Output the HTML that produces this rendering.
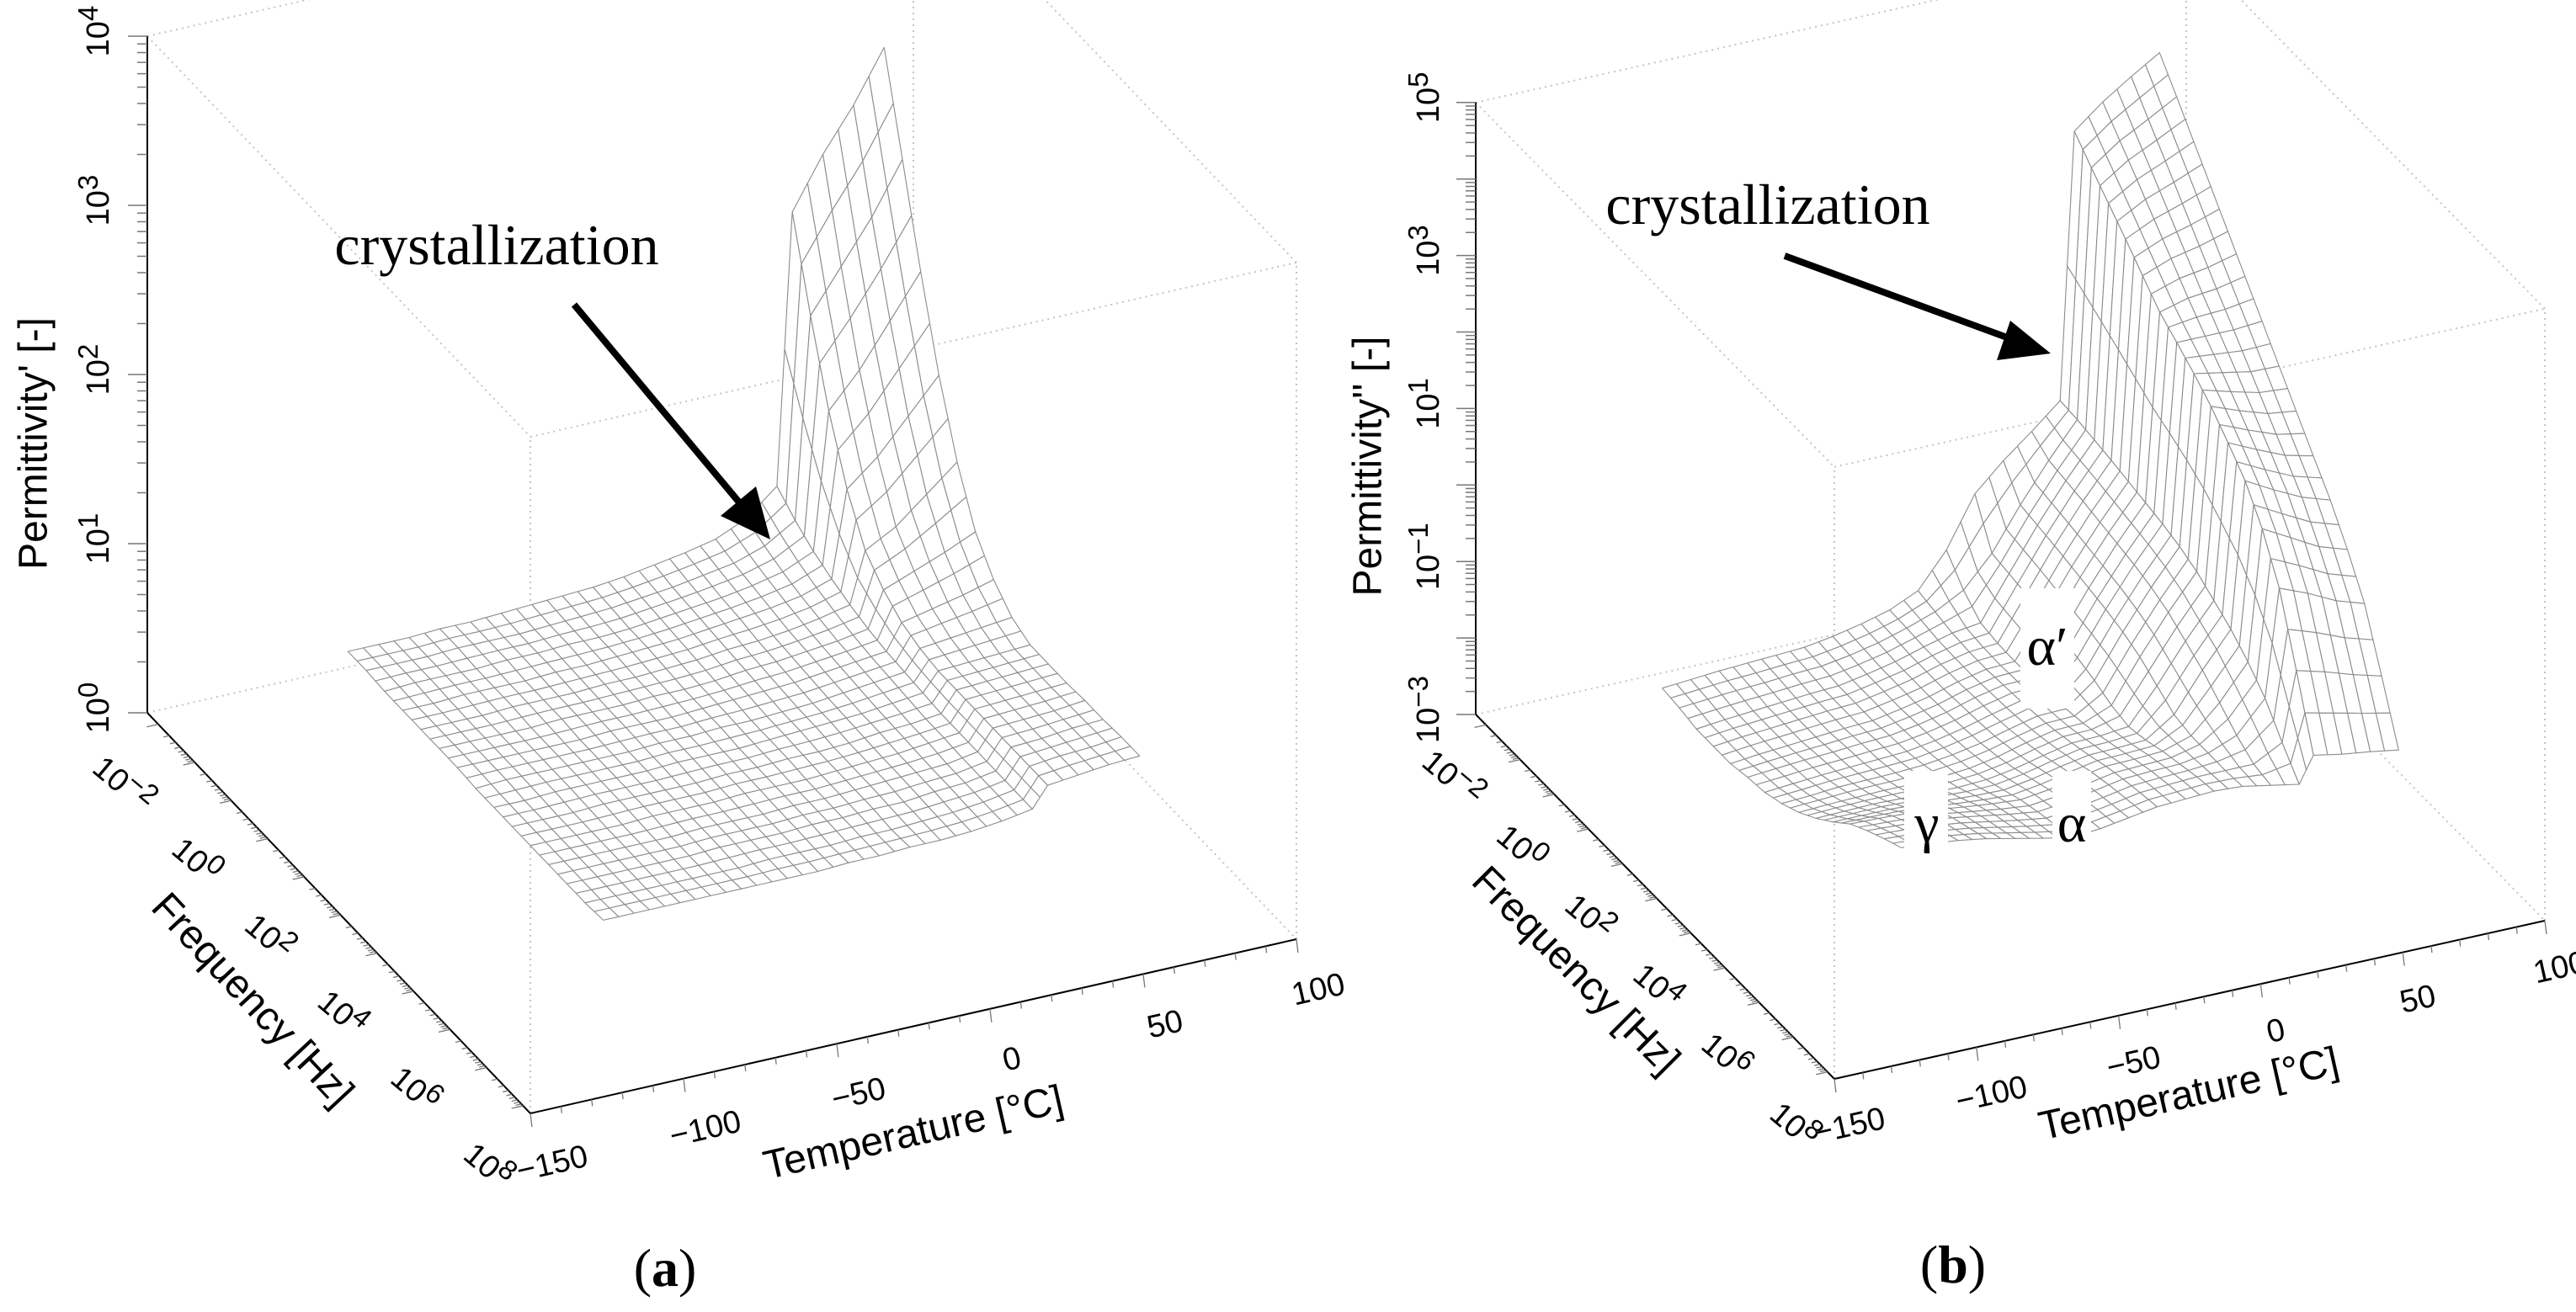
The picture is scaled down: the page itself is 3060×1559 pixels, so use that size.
<!DOCTYPE html>
<html>
<head>
<meta charset="utf-8">
<style>
  html,body{margin:0;padding:0;background:#fff;}
  #fig{display:block;}
  .tick-label{font-family:"Liberation Sans",Arial,sans-serif;font-size:38px;fill:#000;}
  .axis-title{font-family:"Liberation Sans",Arial,sans-serif;font-size:48px;fill:#000;}
  .serif{font-family:"Liberation Serif","Times New Roman",serif;fill:#000;}
</style>
</head>
<body>
<svg id="fig" width="3060" height="1559" viewBox="0 0 3060 1559">
  <rect x="0" y="0" width="3060" height="1559" fill="#fff"/>
  <g id="panelA">
    <g id="boxA"></g>
    <g id="surfA"></g>
    <g id="axesA"></g>
    <text class="axis-title" x="40" y="527" text-anchor="middle" dominant-baseline="central" font-size="52" transform="rotate(-90 40 527)">Permittivity' [-]</text>
    <text class="axis-title" x="300" y="1188" text-anchor="middle" dominant-baseline="central" transform="rotate(47 300 1188)">Frequency [Hz]</text>
    <text class="axis-title" x="1085" y="1346" text-anchor="middle" dominant-baseline="central" font-size="50" transform="rotate(-12.8 1085 1346)">Temperature [°C]</text>
    <text class="serif" x="590" y="314" font-size="68" text-anchor="middle">crystallization</text>
    <g>
      <line x1="682" y1="362" x2="884" y2="604" stroke="#000" stroke-width="8"/>
      <polygon points="915,641 856,613 898,578" fill="#000"/>
    </g>
    <text class="serif" x="790" y="1528" font-size="64" text-anchor="middle">(<tspan font-weight="bold">a</tspan>)</text>
  </g>
  <g id="panelB">
    <g id="boxB"></g>
    <g id="surfB"></g>
    <g id="axesB"></g>
    <text class="axis-title" x="1625" y="554" text-anchor="middle" dominant-baseline="central" font-size="52" transform="rotate(-90 1625 554)">Permittivity'' [-]</text>
    <text class="axis-title" x="1872" y="1153" text-anchor="middle" dominant-baseline="central" transform="rotate(45 1872 1153)">Frequency [Hz]</text>
    <text class="axis-title" x="2600" y="1300" text-anchor="middle" dominant-baseline="central" font-size="50" transform="rotate(-12.6 2600 1300)">Temperature [°C]</text>
    <text class="serif" x="2100" y="266" font-size="68" text-anchor="middle">crystallization</text>
    <g>
      <line x1="2120" y1="304" x2="2395" y2="405" stroke="#000" stroke-width="8"/>
      <polygon points="2436,420 2372,428 2388,381" fill="#000"/>
    </g>
    <rect x="2400" y="699" width="64" height="143" fill="#fff"/>
    <text class="serif" x="2432" y="790" font-size="66" text-anchor="middle">α′</text>
    <rect x="2262" y="916" width="52" height="100" fill="#fff"/>
    <text class="serif" x="2289" y="1000" font-size="66" text-anchor="middle">γ</text>
    <rect x="2438" y="916" width="46" height="92" fill="#fff"/>
    <text class="serif" x="2461" y="1000" font-size="66" text-anchor="middle">α</text>
    <text class="serif" x="2320" y="1524" font-size="64" text-anchor="middle">(<tspan font-weight="bold">b</tspan>)</text>
  </g>
</svg>
<script>
// ---------------- DATA ----------------
const temps = [-100,-90,-80,-70,-60,-50,-40,-30,-20,-10,0,10,20,30,40,45,55,65,75];
const logFreqs = [-1.0,-0.5,0.0,0.5,1.0,1.5,2.0,2.5,3.0,3.5,4.0,4.5,5.0,5.5,6.0];

// panel (a): log10(permittivity'), rows = logFreqs, cols = temps
const epsRealLog = [
 [.45,.45,.45,.46,.46,.47,.48,.49,.50,.52,.55,.58,.62,.70,.85,2.45,2.75,3.00,3.30],
 [.45,.45,.45,.46,.46,.46,.47,.48,.49,.51,.53,.56,.59,.65,.76,1.95,2.20,2.45,2.75],
 [.44,.45,.45,.45,.46,.46,.47,.47,.48,.50,.52,.54,.57,.61,.69,1.50,1.70,1.95,2.20],
 [.44,.44,.45,.45,.45,.46,.46,.47,.48,.49,.51,.53,.55,.58,.64,1.15,1.30,1.50,1.70],
 [.44,.44,.44,.45,.45,.45,.46,.46,.47,.48,.50,.51,.53,.56,.60,.90,1.00,1.15,1.30],
 [.44,.44,.44,.44,.45,.45,.45,.46,.46,.47,.49,.50,.52,.54,.57,.78,.85,.92,1.00],
 [.44,.44,.44,.44,.44,.45,.45,.45,.46,.47,.48,.49,.51,.53,.55,.70,.74,.78,.83],
 [.43,.44,.44,.44,.44,.44,.45,.45,.46,.46,.47,.48,.50,.52,.54,.66,.68,.70,.72],
 [.43,.43,.44,.44,.44,.44,.45,.45,.45,.46,.47,.48,.49,.51,.53,.64,.65,.66,.67],
 [.43,.43,.43,.44,.44,.44,.44,.45,.45,.46,.46,.47,.49,.50,.52,.64,.65,.66,.67],
 [.43,.43,.43,.43,.44,.44,.44,.45,.45,.45,.46,.47,.48,.50,.52,.64,.65,.66,.67],
 [.43,.43,.43,.43,.43,.44,.44,.44,.45,.45,.46,.47,.48,.49,.52,.64,.65,.66,.68],
 [.43,.43,.43,.43,.43,.44,.44,.44,.45,.45,.46,.46,.48,.49,.52,.64,.65,.67,.68],
 [.43,.43,.43,.43,.43,.43,.44,.44,.44,.45,.45,.46,.47,.49,.52,.64,.66,.67,.69],
 [.44,.44,.44,.44,.44,.44,.44,.44,.45,.45,.46,.46,.47,.49,.52,.64,.66,.68,.69]
];

// panel (b): log10(permittivity''), rows = logFreqs, cols = temps
const epsImagLog = [
 [-2.48,-2.45,-2.42,-2.40,-2.38,-2.36,-2.30,-2.22,-2.12,-1.95,-1.50,-0.85,-0.50,-0.20,0.12,3.60,3.90,4.15,4.38],
 [-2.51,-2.48,-2.45,-2.43,-2.40,-2.38,-2.32,-2.24,-2.13,-2.00,-1.80,-1.40,-0.85,-0.35,0.10,3.35,3.62,3.82,4.03],
 [-2.56,-2.52,-2.49,-2.46,-2.43,-2.41,-2.34,-2.26,-2.15,-2.05,-2.00,-1.44,-0.89,-0.39,0.06,3.11,3.34,3.50,3.67],
 [-2.56,-2.52,-2.49,-2.46,-2.43,-2.41,-2.34,-2.26,-2.15,-2.07,-2.04,-1.48,-0.93,-0.43,0.02,2.87,3.05,3.17,3.31],
 [-2.56,-2.52,-2.49,-2.46,-2.43,-2.41,-2.34,-2.26,-2.15,-2.07,-2.05,-1.53,-0.98,-0.48,-0.03,2.62,2.76,2.84,2.95],
 [-2.51,-2.48,-2.45,-2.43,-2.40,-2.38,-2.32,-2.24,-2.13,-2.05,-2.04,-1.58,-1.03,-0.53,-0.08,2.37,2.47,2.51,2.59],
 [-2.48,-2.45,-2.42,-2.40,-2.38,-2.36,-2.30,-2.22,-2.12,-2.03,-2.02,-1.63,-1.08,-0.58,-0.13,2.20,2.20,2.20,2.23],
 [-2.40,-2.38,-2.35,-2.34,-2.33,-2.31,-2.26,-2.19,-2.09,-2.00,-1.99,-1.70,-1.15,-0.65,-0.20,2.02,1.95,1.88,1.87],
 [-2.29,-2.27,-2.26,-2.25,-2.25,-2.24,-2.21,-2.14,-2.04,-1.96,-1.95,-1.80,-1.25,-0.75,-0.30,1.82,1.68,1.56,1.51],
 [-2.14,-2.13,-2.12,-2.13,-2.14,-2.15,-2.13,-2.07,-1.98,-1.90,-1.89,-1.85,-1.40,-0.90,-0.45,1.57,1.40,1.24,1.15],
 [-1.96,-1.96,-1.96,-1.98,-2.01,-2.03,-2.04,-1.98,-1.90,-1.83,-1.82,-1.80,-1.55,-1.05,-0.60,1.30,1.10,0.92,0.80],
 [-1.76,-1.77,-1.79,-1.82,-1.87,-1.91,-1.94,-1.89,-1.82,-1.75,-1.74,-1.72,-1.60,-1.25,-0.80,0.90,0.70,0.50,0.38],
 [-1.62,-1.64,-1.66,-1.70,-1.76,-1.82,-1.87,-1.83,-1.76,-1.69,-1.67,-1.66,-1.60,-1.45,-1.05,0.35,0.20,0.02,-0.10],
 [-1.50,-1.52,-1.56,-1.61,-1.68,-1.75,-1.81,-1.77,-1.71,-1.64,-1.62,-1.60,-1.60,-1.60,-1.40,-0.50,-0.60,-0.72,-0.82],
 [-1.39,-1.42,-1.46,-1.52,-1.60,-1.68,-1.75,-1.72,-1.66,-1.60,-1.58,-1.56,-1.58,-1.65,-1.72,-1.38,-1.45,-1.50,-1.56]
];

// tick values
const zTickExpsA = [0,1,2,3,4];
const zTickExpsB = [-3,-1,1,3,5];
const freqTickExps = [-2,0,2,4,6,8];
const tempTicks = [-150,-100,-50,0,50,100];

// ---------------- RENDERING ----------------
const cfgA = {A:[175,847], BA:[455,476], CB:[910,-207], zpx:201, zmin:0, zmax:4,
  tmin:-150, tmax:100, fmin:-2.3, fmax:8.2, zLabX:-58, fOff:[-42,72], tOff:[26,60], tAng:-12.8, fAng:40};
const cfgB = {A:[1753,849], BA:[426,433], CB:[844,-188], zpx:90.9, zmin:-3, zmax:5,
  tmin:-150, tmax:100, fmin:-2.3, fmax:8.2, zLabX:-56, fOff:[-40,64], tOff:[18,56], tAng:-12.6, fAng:40};

const svgRoot = document.getElementById('fig');
const SVGNS = svgRoot.namespaceURI;
function mk(tag, attrs, parent){
  const el = document.createElementNS(SVGNS, tag);
  for (const k in attrs) el.setAttribute(k, attrs[k]);
  parent.appendChild(el);
  return el;
}
function proj(c, T, lf, L){
  const u = (T - c.tmin)/(c.tmax - c.tmin);
  const v = (lf - c.fmin)/(c.fmax - c.fmin);
  return [c.A[0] + v*c.BA[0] + u*c.CB[0], c.A[1] + v*c.BA[1] + u*c.CB[1] - (L - c.zmin)*c.zpx];
}
function pt(p){ return p[0].toFixed(1)+','+p[1].toFixed(1); }

function drawBox(c, g, prefix){
  const A = proj(c,c.tmin,c.fmin,c.zmin), B = proj(c,c.tmin,c.fmax,c.zmin), C = proj(c,c.tmax,c.fmax,c.zmin), D = proj(c,c.tmax,c.fmin,c.zmin);
  const At = proj(c,c.tmin,c.fmin,c.zmax), Bt = proj(c,c.tmin,c.fmax,c.zmax), Ct = proj(c,c.tmax,c.fmax,c.zmax), Dt = proj(c,c.tmax,c.fmin,c.zmax);
  const segs = [[A,D],[D,C],[At,Bt],[Bt,Ct],[B,Bt],[C,Ct],[At,Dt],[Ct,Dt],[D,Dt]];
  segs.forEach(s=>{
    const el = mk('line',{x1:s[0][0],y1:s[0][1],x2:s[1][0],y2:s[1][1],stroke:'#c4c4c4','stroke-width':2,'stroke-dasharray':'2 5'},g);
    
    
  });
}

function drawSurface(c, g, Z, prefix){
  const n = 2, quads = [];
  const nr = logFreqs.length, nc = temps.length;
  function val(i, j, a, b){
    const z00=Z[i][j], z01=Z[i][j+1], z10=Z[i+1][j], z11=Z[i+1][j+1];
    return z00*(1-a)*(1-b) + z01*(1-a)*b + z10*a*(1-b) + z11*a*b;
  }
  for (let i=0;i<nr-1;i++){
    for (let j=0;j<nc-1;j++){
      for (let si=0;si<n;si++){
        for (let sj=0;sj<n;sj++){
          const a0=si/n, a1=(si+1)/n, b0=sj/n, b1=(sj+1)/n;
          const f0 = logFreqs[i]+(logFreqs[i+1]-logFreqs[i])*a0, f1 = logFreqs[i]+(logFreqs[i+1]-logFreqs[i])*a1;
          const t0 = temps[j]+(temps[j+1]-temps[j])*b0, t1 = temps[j]+(temps[j+1]-temps[j])*b1;
          const p1 = proj(c,t0,f0,val(i,j,a0,b0));
          const p2 = proj(c,t1,f0,val(i,j,a0,b1));
          const p3 = proj(c,t1,f1,val(i,j,a1,b1));
          const p4 = proj(c,t0,f1,val(i,j,a1,b0));
          const um = ((t0+t1)/2 - c.tmin)/(c.tmax-c.tmin);
          const vm = ((f0+f1)/2 - c.fmin)/(c.fmax-c.fmin);
          quads.push({key: vm - um, pts: [p1,p2,p3,p4]});
        }
      }
    }
  }
  quads.sort((q1,q2)=>q1.key-q2.key);
  quads.forEach(q=>{
    const el = mk('polygon',{points:q.pts.map(pt).join(' '),fill:'#fff',stroke:'#8c8c8c','stroke-width':1.1,'stroke-linejoin':'round'},g);
    
    
  });
}

function supLabel(g, x, y, base, exp, rot, name){
  const t = mk('text',{x:x,y:y,'class':'tick-label','text-anchor':'middle','dominant-baseline':'central',transform:'rotate('+rot+' '+x+' '+y+')'},g);
  
  
  const s1 = mk('tspan',{},t); s1.textContent = base;
  const s2 = mk('tspan',{dy:-13,'font-size':33},t); s2.textContent = exp;
  return t;
}

function drawAxes(c, g, zExps, prefix){
  const A = proj(c,c.tmin,c.fmin,c.zmin), B = proj(c,c.tmin,c.fmax,c.zmin), C = proj(c,c.tmax,c.fmax,c.zmin), At = proj(c,c.tmin,c.fmin,c.zmax);
  [[A,At,'z-axis-line'],[A,B,'frequency-axis-line'],[B,C,'temperature-axis-line']].forEach(s=>{
    const el = mk('line',{x1:s[0][0],y1:s[0][1],x2:s[1][0],y2:s[1][1],stroke:'#000','stroke-width':2},g);
    
    
  });
  for (let e=c.zmin; e<=c.zmax; e++){
    const p = proj(c,c.tmin,c.fmin,e);
    const el = mk('line',{x1:p[0]-23,y1:p[1],x2:p[0],y2:p[1],stroke:'#777','stroke-width':1.5},g);
    
    
    if (e<c.zmax){
      for (let m=2;m<=9;m++){
        const q = proj(c,c.tmin,c.fmin,e+Math.log10(m));
        const el2 = mk('line',{x1:q[0]-12,y1:q[1],x2:q[0],y2:q[1],stroke:'#777','stroke-width':1.5},g);
        
        
      }
    }
  }
  zExps.forEach(e=>{
    const p = proj(c,c.tmin,c.fmin,e);
    supLabel(g, p[0]+c.zLabX, p[1]-6, '10', (e<0?'\u2212':'')+Math.abs(e), -90, prefix+'-z-tick-label');
  });
  const tl = Math.hypot(c.CB[0],c.CB[1]);
  const fd = [-c.CB[0]/tl, -c.CB[1]/tl];
  for (let e=Math.ceil(c.fmin); e<=Math.floor(c.fmax); e++){
    for (let m=1;m<=9;m++){
      const lf = e + Math.log10(m);
      if (lf > c.fmax) break;
      const p = proj(c,c.tmin,lf,c.zmin);
      const len = m===1?14:7;
      const el = mk('line',{x1:p[0],y1:p[1],x2:p[0]+fd[0]*len,y2:p[1]+fd[1]*len,stroke:'#777','stroke-width':1.3},g);
      
      
    }
  }
  freqTickExps.forEach(e=>{
    const p = proj(c,c.tmin,e,c.zmin);
    supLabel(g, p[0]+c.fOff[0], p[1]+c.fOff[1], '10', (e<0?'\u2212':'')+Math.abs(e), c.fAng, prefix+'-frequency-tick-label');
  });
  for (let T=c.tmin; T<=c.tmax; T+=10){
    const p = proj(c,T,c.fmax,c.zmin);
    const len = (T%50===0)?16:8;
    const el = mk('line',{x1:p[0],y1:p[1],x2:p[0]+len*0.12,y2:p[1]+len,stroke:'#777','stroke-width':1.3},g);
    
    
  }
  tempTicks.forEach(T=>{
    const p = proj(c,T,c.fmax,c.zmin);
    const x = p[0]+c.tOff[0], y = p[1]+c.tOff[1];
    const t = mk('text',{x:x,y:y,'class':'tick-label','text-anchor':'middle','dominant-baseline':'central',transform:'rotate('+c.tAng+' '+x+' '+y+')'},g);
    
    
    t.textContent = (T<0?'\u2212':'')+Math.abs(T);
  });
}

drawBox(cfgA, document.getElementById('boxA'), 'panel-a');
drawSurface(cfgA, document.getElementById('surfA'), epsRealLog, 'panel-a');
drawAxes(cfgA, document.getElementById('axesA'), zTickExpsA, 'panel-a');
drawBox(cfgB, document.getElementById('boxB'), 'panel-b');
drawSurface(cfgB, document.getElementById('surfB'), epsImagLog, 'panel-b');
drawAxes(cfgB, document.getElementById('axesB'), zTickExpsB, 'panel-b');
</script>
</body>
</html>
